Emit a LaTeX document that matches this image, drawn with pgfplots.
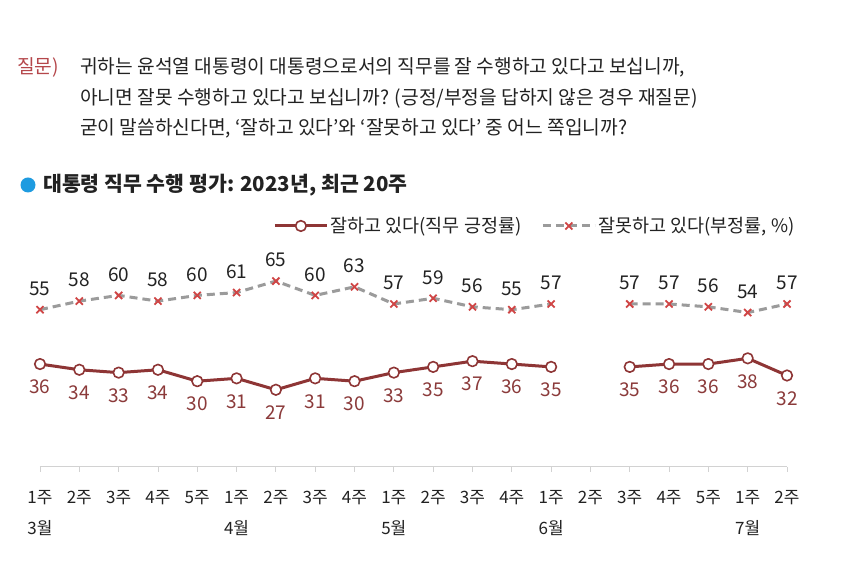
\documentclass[border=0pt]{standalone}
\usepackage{fontspec}
\setmainfont{Noto Sans CJK KR}
\usepackage{pgfplots}
\pgfplotsset{compat=1.18}
\definecolor{cpos}{HTML}{8E3535}
\definecolor{cposl}{HTML}{8B3A3A}
\definecolor{xred}{HTML}{D04545}
\definecolor{dgray}{HTML}{9B9B9B}
\definecolor{qred}{HTML}{B5474B}
\definecolor{bdot}{HTML}{1E9BE0}
\definecolor{axisgray}{HTML}{D2D2D2}
\definecolor{txt}{HTML}{222222}
\begin{document}
\begin{tikzpicture}
\useasboundingbox (0,0) rectangle (850bp,568bp);
\fill[white] (0,0) rectangle (850bp,568bp);
\begin{scope}[every node/.style={anchor=west, inner sep=0pt, font=\fontsize{19.2bp}{22bp}\selectfont, text=txt}]
\node[text=qred] at (17bp,501bp) {질문)};
\node at (80bp,501bp) {귀하는 윤석열 대통령이 대통령으로서의 직무를 잘 수행하고 있다고 보십니까,};
\node at (80bp,470bp) {아니면 잘못 수행하고 있다고 보십니까? (긍정/부정을 답하지 않은 경우 재질문)};
\node at (80bp,440bp) {굳이 말씀하신다면, ‘잘하고 있다’와 ‘잘못하고 있다’ 중 어느 쪽입니까?};
\end{scope}
\fill[bdot] (28bp,383bp) circle (7.5bp);
\node[anchor=west, inner sep=0pt, font=\fontsize{20.5bp}{24bp}\selectfont\bfseries, text=txt] at (43bp,383bp) {대통령 직무 수행 평가: 2023년, 최근 20주};
\begin{axis}[
  at={(40bp,101bp)}, anchor=south west,
  scale only axis, width=747bp, height=200.2bp,
  xmin=0, xmax=19, ymin=0, ymax=70,
  axis y line=none, axis x line*=bottom,
  axis line style={draw=axisgray, line width=1bp},
  xtick={0,...,19},
  xticklabels={1주,2주,3주,4주,5주,1주,2주,3주,4주,1주,2주,3주,4주,1주,2주,3주,4주,5주,1주,2주},
  tick align=outside, major tick length=5bp,
  tick style={draw=axisgray, line width=0.8bp},
  xticklabel style={font=\fontsize{17bp}{18bp}\selectfont, text=txt, anchor=base, yshift=-31bp},
  extra x ticks={0,5,9,13,18},
  extra x tick labels={3월,4월,5월,6월,7월},
  extra x tick style={major tick length=0pt, tick style={draw=none}, xticklabel style={yshift=-36bp}},
  clip=false, unbounded coords=jump,
  /pgf/number format/assume math mode=true,
  legend columns=2, legend cell align=left,
  legend style={at={(1.013,1.204)}, anchor=east, draw=none, fill=none, inner sep=0pt,
    font=\fontsize{18.5bp}{19bp}\selectfont, text=txt,
    /tikz/every even column/.append style={column sep=18bp}},
  legend image code/.code={\draw[mark repeat=2,mark phase=2,#1] plot coordinates {(0bp,0bp) (26bp,0bp) (52bp,0bp)};},
]
\addplot[cpos, line width=3bp, line join=round, mark=*, mark size=5.3bp,
  mark options={fill=white, draw=cpos, line width=1.6bp, solid},
  nodes near coords,
  nodes near coords style={anchor=center, yshift=-23bp, text=cposl, font=\fontsize{19bp}{20bp}\selectfont}]
  coordinates {(0,36)(1,34)(2,33)(3,34)(4,30)(5,31)(6,27)(7,31)(8,30)(9,33)(10,35)(11,37)(12,36)(13,35)(14,nan)(15,35)(16,36)(17,36)(18,38)(19,32)};
\addlegendentry{잘하고 있다(직무 긍정률)}
\addplot[dgray, line width=3bp, dash pattern=on 8bp off 5bp, mark=x, mark size=5bp,
  mark options={draw=xred, line width=1.8bp, solid},
  nodes near coords,
  nodes near coords style={anchor=center, yshift=21bp, text=txt, font=\fontsize{19bp}{20bp}\selectfont}]
  coordinates {(0,55)(1,58)(2,60)(3,58)(4,60)(5,61)(6,65)(7,60)(8,63)(9,57)(10,59)(11,56)(12,55)(13,57)(14,nan)(15,57)(16,57)(17,56)(18,54)(19,57)};
\addlegendentry{잘못하고 있다(부정률, \%)}
\end{axis}
\end{tikzpicture}
\end{document}
